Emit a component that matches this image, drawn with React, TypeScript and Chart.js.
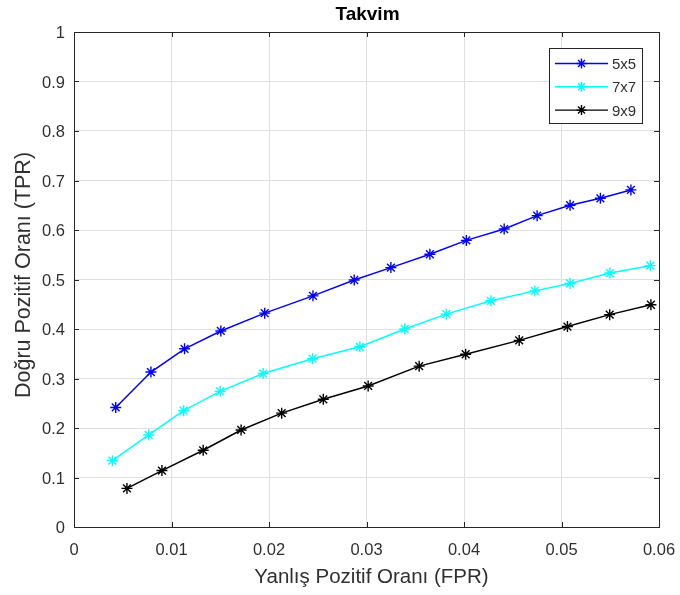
import React, { useEffect, useRef } from "react";
import { Chart, registerables } from "chart.js";

Chart.register(...registerables);

const seriesNames = ["5x5", "7x7", "9x9"];
const seriesColors = ["#0000ff", "#00ffff", "#000000"];

const fpr5 = [0.00428, 0.00789, 0.01134, 0.01506, 0.01956, 0.02451, 0.02874, 0.0325, 0.0365, 0.04024, 0.04412, 0.0475, 0.05088, 0.05399, 0.05712];
const tpr5 = [0.2415, 0.313, 0.36, 0.396, 0.432, 0.467, 0.499, 0.524, 0.551, 0.579, 0.602, 0.629, 0.65, 0.664, 0.681];

const fpr7 = [0.00394, 0.00766, 0.01124, 0.015, 0.0194, 0.02447, 0.02932, 0.03393, 0.03819, 0.04276, 0.04727, 0.05088, 0.05497, 0.05911];
const tpr7 = [0.134, 0.186, 0.235, 0.274, 0.31, 0.34, 0.364, 0.4, 0.43, 0.457, 0.477, 0.492, 0.513, 0.528];

const fpr9 = [0.00543, 0.00902, 0.01325, 0.01714, 0.0213, 0.02557, 0.03017, 0.0354, 0.04017, 0.04566, 0.05061, 0.05494, 0.05917];
const tpr9 = [0.078, 0.114, 0.155, 0.196, 0.23, 0.258, 0.285, 0.325, 0.349, 0.377, 0.405, 0.429, 0.449];

const xTickLabels = ["0", "0.01", "0.02", "0.03", "0.04", "0.05", "0.06"];
const yTickLabels = ["0", "0.1", "0.2", "0.3", "0.4", "0.5", "0.6", "0.7", "0.8", "0.9", "1"];

const chartTitle = "Takvim";
const xTitle = "Yanlış Pozitif Oranı (FPR)";
const yTitle = "Doğru Pozitif Oranı (TPR)";

const FONT = "'Liberation Sans', Arial, Helvetica, sans-serif";
const AXIS_COLOR = "#262626";
const TEXT_COLOR = "#303030";

const decorPlugin = {
  id: "matlabDecor",
  afterDraw(chart: any) {
    const { ctx, chartArea } = chart;
    const { left, right, top, bottom } = chartArea;
    const xs = chart.scales.x;
    const ys = chart.scales.y;
    ctx.save();
    // box
    ctx.strokeStyle = AXIS_COLOR;
    ctx.lineWidth = 1;
    ctx.strokeRect(Math.round(left) + 0.5, Math.round(top) + 0.5, Math.round(right - left), Math.round(bottom - top));
    // inward ticks
    const tl = 5;
    ctx.beginPath();
    xs.ticks.forEach((t: any) => {
      const px = Math.round(xs.getPixelForValue(t.value)) + 0.5;
      ctx.moveTo(px, bottom);
      ctx.lineTo(px, bottom - tl);
      ctx.moveTo(px, top);
      ctx.lineTo(px, top + tl);
    });
    ys.ticks.forEach((t: any) => {
      const py = Math.round(ys.getPixelForValue(t.value)) + 0.5;
      ctx.moveTo(left, py);
      ctx.lineTo(left + tl, py);
      ctx.moveTo(right, py);
      ctx.lineTo(right - tl, py);
    });
    ctx.stroke();

    // tick labels
    ctx.fillStyle = TEXT_COLOR;
    ctx.font = `16.5px ${FONT}`;
    ctx.textBaseline = "alphabetic";
    ctx.textAlign = "center";
    xTickLabels.forEach((l) => {
      const px = xs.getPixelForValue(parseFloat(l));
      ctx.fillText(l, px, 555);
    });
    ctx.textAlign = "right";
    yTickLabels.forEach((l) => {
      const py = ys.getPixelForValue(parseFloat(l));
      ctx.fillText(l, 65, py + 6);
    });

    // title
    ctx.fillStyle = "#000000";
    ctx.font = `bold 19px ${FONT}`;
    ctx.textAlign = "center";
    ctx.fillText(chartTitle, 367.5, 20);
    // x title
    ctx.fillStyle = TEXT_COLOR;
    ctx.font = `20.5px ${FONT}`;
    ctx.fillText(xTitle, 371.5, 582.5);
    // y title
    ctx.save();
    ctx.translate(30, 275);
    ctx.rotate(-Math.PI / 2);
    ctx.font = `21.5px ${FONT}`;
    ctx.fillText(yTitle, 0, 0);
    ctx.restore();

    // legend
    const lx = 549, ly = 48, lw = 93, lh = 75;
    ctx.fillStyle = "#ffffff";
    ctx.fillRect(lx, ly, lw, lh);
    ctx.strokeStyle = AXIS_COLOR;
    ctx.lineWidth = 1;
    ctx.strokeRect(lx + 0.5, ly + 0.5, lw, lh);
    ctx.font = `15px ${FONT}`;
    ctx.textAlign = "left";
    seriesNames.forEach((name, i) => {
      const y = 63.5 + i * 23.3;
      ctx.strokeStyle = seriesColors[i];
      ctx.lineWidth = 1.4;
      ctx.beginPath();
      ctx.moveTo(555, y);
      ctx.lineTo(608, y);
      ctx.stroke();
      const mx = 581.5, r = 5;
      ctx.beginPath();
      ctx.moveTo(mx, y - r); ctx.lineTo(mx, y + r);
      ctx.moveTo(mx - r, y); ctx.lineTo(mx + r, y);
      const d = r * 0.7;
      ctx.moveTo(mx - d, y - d); ctx.lineTo(mx + d, y + d);
      ctx.moveTo(mx - d, y + d); ctx.lineTo(mx + d, y - d);
      ctx.stroke();
      ctx.fillStyle = TEXT_COLOR;
      ctx.fillText(name, 612, y + 5.5);
    });
    ctx.restore();
  },
};

function toPoints(xs: number[], ys: number[]) {
  return xs.map((x, i) => ({ x, y: ys[i] }));
}

export default function App() {
  const ref = useRef<HTMLCanvasElement | null>(null);
  useEffect(() => {
    if (!ref.current) return;
    const xsAll = [fpr5, fpr7, fpr9];
    const ysAll = [tpr5, tpr7, tpr9];
    const chart = new Chart(ref.current, {
      type: "line",
      data: {
        datasets: seriesNames.map((name, i) => ({
          label: name,
          data: toPoints(xsAll[i], ysAll[i]),
          borderColor: seriesColors[i],
          backgroundColor: seriesColors[i],
          borderWidth: 1.5,
          pointStyle: "star",
          pointRadius: 5.5,
          pointBorderWidth: 1.4,
          pointBorderColor: seriesColors[i],
          fill: false,
          tension: 0,
        })),
      },
      options: {
        animation: false,
        responsive: false,
        maintainAspectRatio: false,
        layout: { padding: { left: 0, right: 21, top: 32, bottom: 0 } },
        plugins: {
          legend: { display: false },
          title: { display: false },
          tooltip: { enabled: false },
        },
        scales: {
          x: {
            type: "linear",
            min: 0,
            max: 0.06,
            afterFit: (s: any) => { s.height = 68; },
            afterBuildTicks: (s: any) => {
              s.ticks = xTickLabels.map((l) => ({ value: parseFloat(l), label: l }));
            },
            ticks: { display: false },
            grid: { color: "#e0e0e0", drawTicks: false, lineWidth: 1 },
            border: { display: false },
          },
          y: {
            type: "linear",
            min: 0,
            max: 1,
            afterFit: (s: any) => { s.width = 74; },
            afterBuildTicks: (s: any) => {
              s.ticks = yTickLabels.map((l) => ({ value: parseFloat(l), label: l }));
            },
            ticks: { display: false },
            grid: { color: "#e0e0e0", drawTicks: false, lineWidth: 1 },
            border: { display: false },
          },
        },
      },
      plugins: [decorPlugin],
    } as any);
    return () => chart.destroy();
  }, []);
  return (
    <div style={{ position: "fixed", left: 0, top: 0, width: 680, height: 595, background: "#ffffff" }}>
      <canvas ref={ref} width={680} height={595} style={{ width: 680, height: 595, display: "block" }} />
    </div>
  );
}
